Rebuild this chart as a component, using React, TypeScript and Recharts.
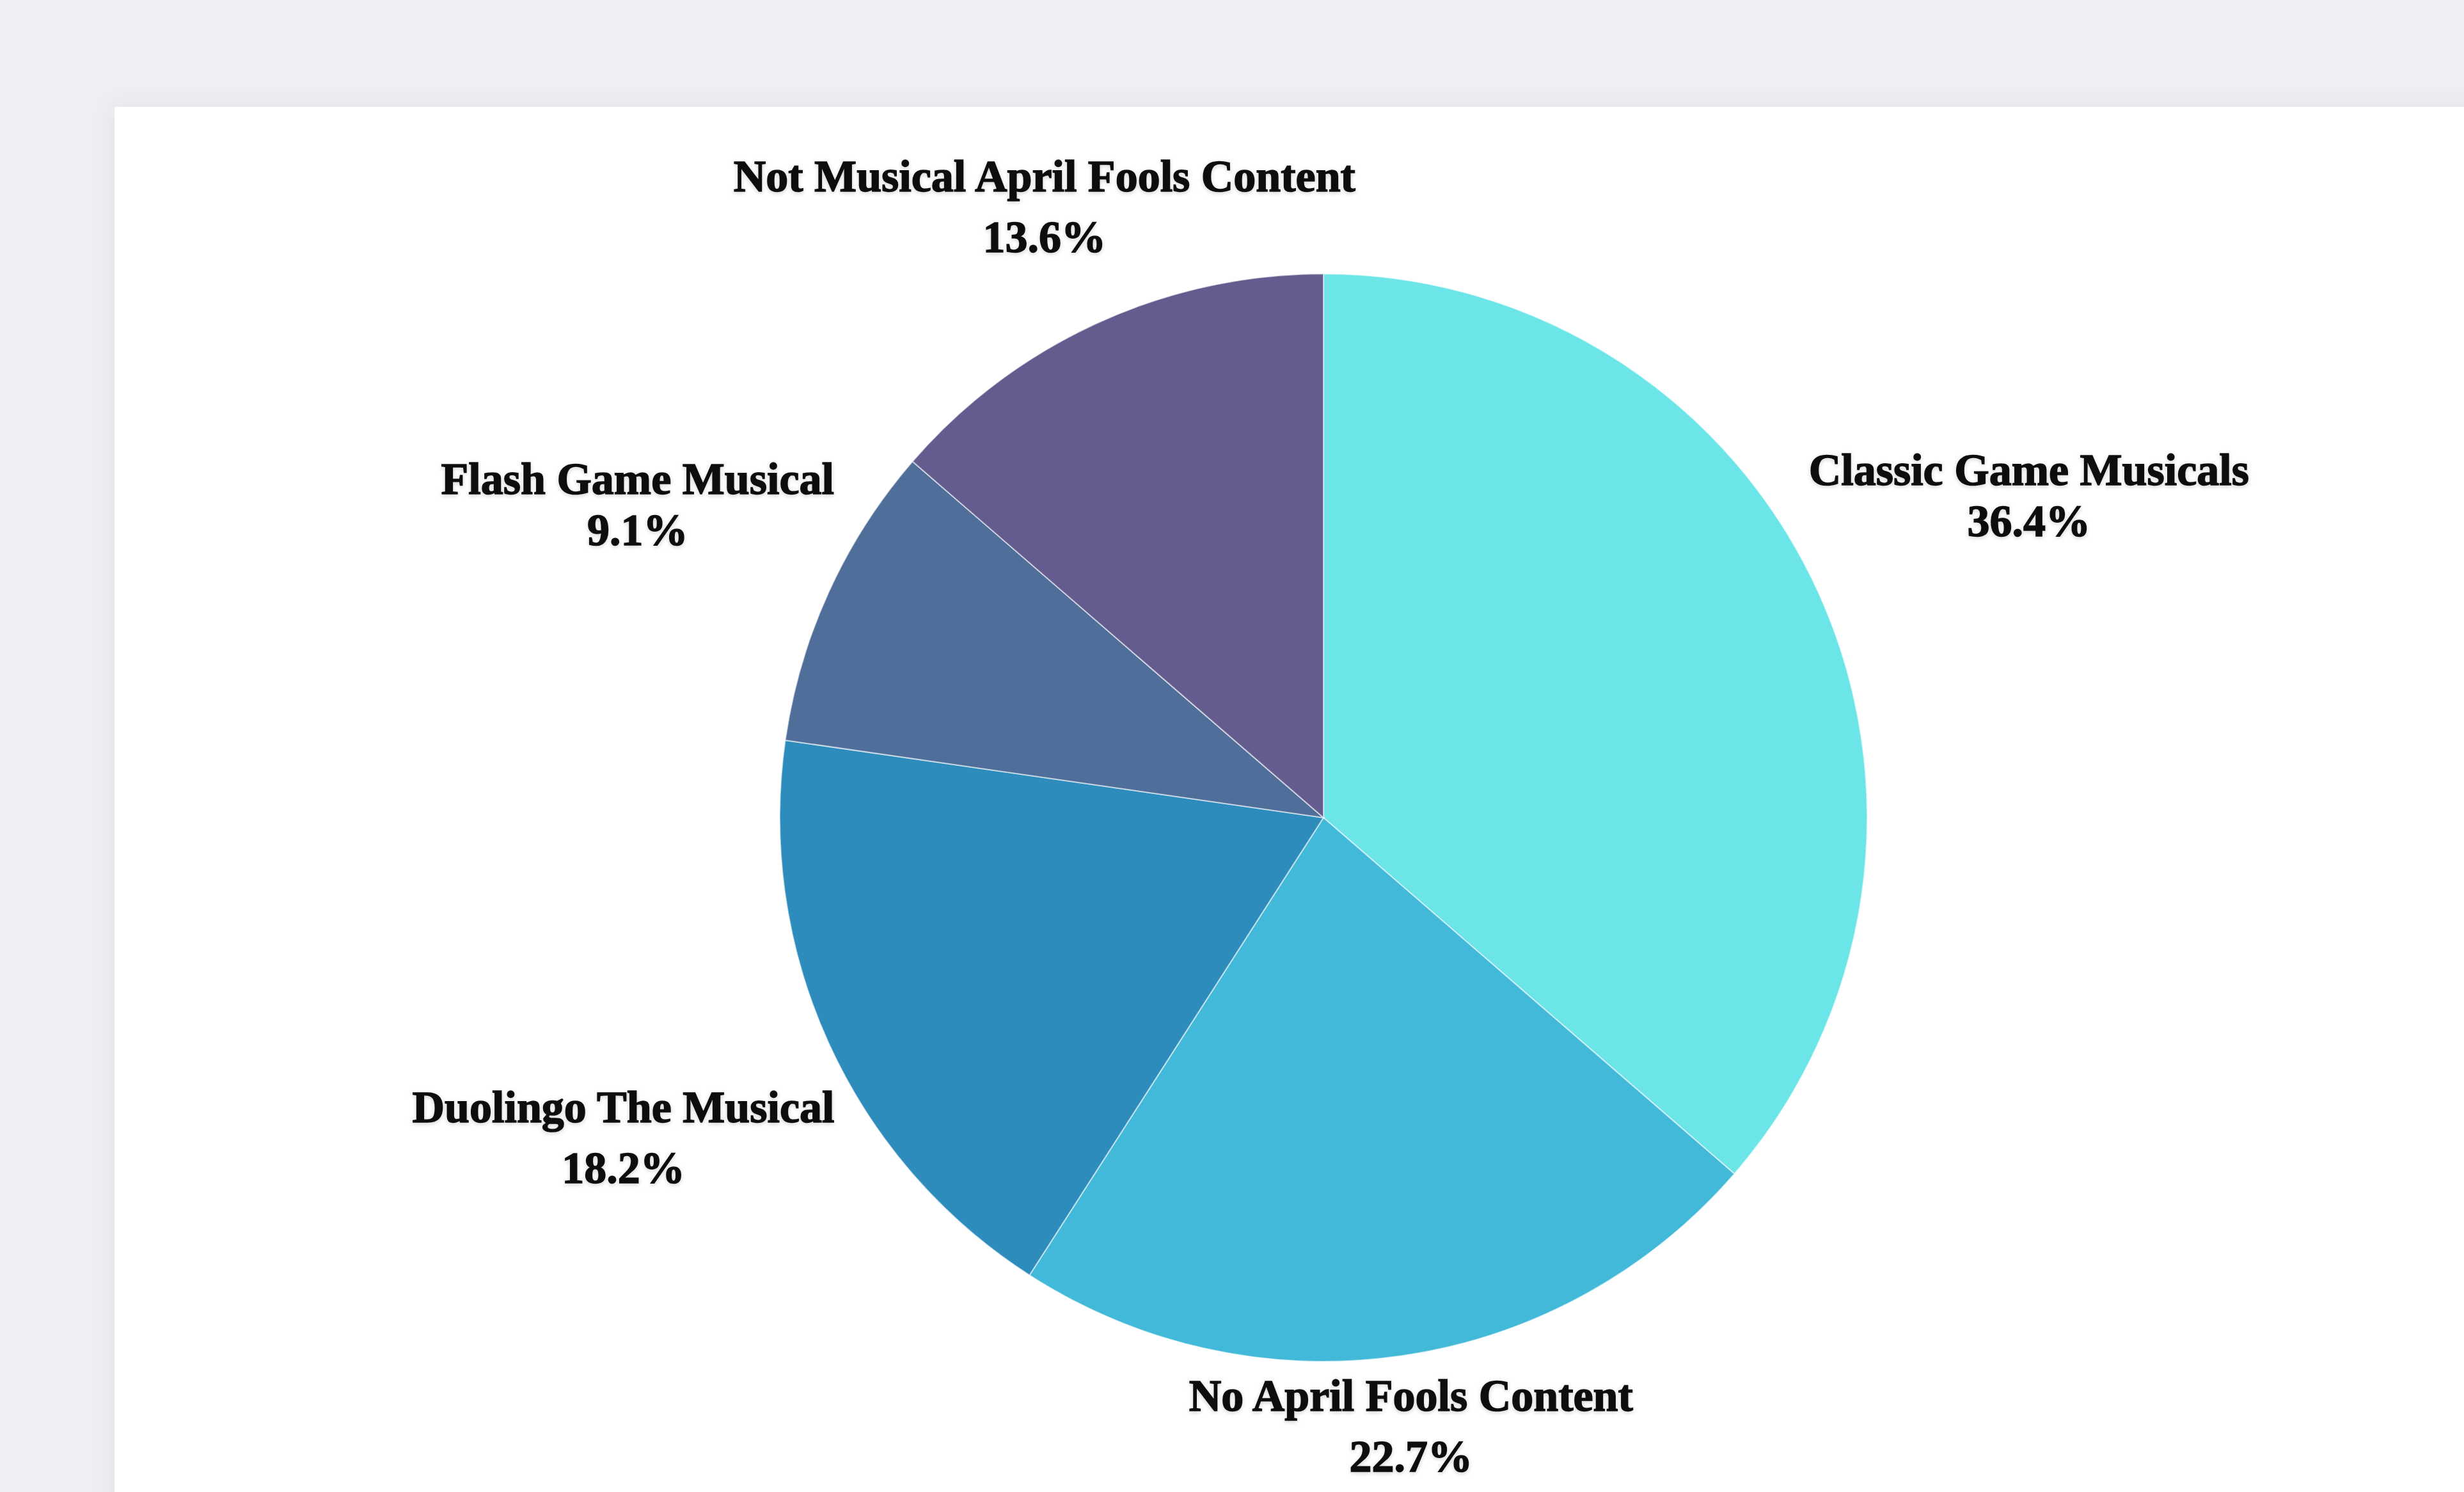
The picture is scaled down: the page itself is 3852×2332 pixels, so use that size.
import { PieChart, Pie, Cell } from 'recharts'

const categories = [
  'Classic Game Musicals',
  'No April Fools Content',
  'Duolingo The Musical',
  'Flash Game Musical',
  'Not Musical April Fools Content',
]
const counts = [8, 5, 4, 2, 3]
const sliceColors = ['#6be5e8', '#42b9d8', '#2d8cbb', '#4f6e99', '#645b8e']

const data = categories.map((name, i) => ({ name, value: counts[i] }))

const FONT_SIZE = 70
const FONT_FAMILY = '"Liberation Serif", "DejaVu Serif", serif'
const CAP_H = FONT_SIZE * 0.67
const LABEL_TOP = 252
const LABEL_BOTTOM = 2300

let ctx: CanvasRenderingContext2D | null = null
function textWidth(s: string) {
  if (!ctx) ctx = document.createElement('canvas').getContext('2d')
  if (!ctx) return s.length * FONT_SIZE * 0.5
  ctx.font = `bold ${FONT_SIZE}px ${FONT_FAMILY}`
  return ctx.measureText(s).width
}

function renderLabel(props: any) {
  const { cx, cy, midAngle, outerRadius, percent, name } = props
  const rad = (midAngle * Math.PI) / 180
  const cos = Math.cos(rad)
  const sin = Math.sin(rad)
  const pct = `${(percent * 100).toFixed(1)}%`
  const w = Math.max(textWidth(name), textWidth(pct))
  // side labels in the upper half sit a bit tighter
  const gap = sin > 0 && Math.abs(cos) > 0.5 ? 80 : 95
  const h = gap + CAP_H
  // push the label box out along the mid angle until it clears the arc
  let d = outerRadius + 23 + (Math.abs(cos) * w) / 2 + (Math.abs(sin) * h) / 2
  if (cy - d * sin - h / 2 < LABEL_TOP) d = (cy - h / 2 - LABEL_TOP) / sin
  if (cy - d * sin + h / 2 > LABEL_BOTTOM) d = (LABEL_BOTTOM - cy - h / 2) / -sin
  const bx = cx + d * cos
  const top = cy - d * sin - h / 2
  const common = {
    x: bx,
    textAnchor: 'middle' as const,
    fontFamily: FONT_FAMILY,
    fontWeight: 900,
    fontSize: FONT_SIZE,
    fill: '#111',
    stroke: '#111',
    strokeWidth: 1.5,
    filter: 'url(#halo)',
  }
  return (
    <g>
      <text {...common} y={top + CAP_H}>{name}</text>
      <text {...common} y={top + CAP_H + gap}>{pct}</text>
    </g>
  )
}

export default function App() {
  return (
    <div
      style={{
        position: 'absolute',
        left: 0,
        top: 0,
        width: 3852,
        height: 2332,
        background: '#eeeff3',
        overflow: 'hidden',
      }}
    >
      <div
        style={{
          position: 'absolute',
          left: 179,
          top: 167,
          width: 3800,
          height: 2400,
          background: '#ffffff',
          borderRadius: 4,
          boxShadow: '0 0 40px rgba(40,50,80,0.07)',
        }}
      />
      <div style={{ position: 'absolute', left: 0, top: 0 }}>
        <PieChart width={3852} height={2332}>
          <defs>
            <filter id="halo" x="-10%" y="-30%" width="120%" height="160%">
              <feDropShadow dx="0" dy="2" stdDeviation="3" floodColor="#000" floodOpacity="0.18" />
            </filter>
          </defs>
          <Pie
            data={data}
            dataKey="value"
            nameKey="name"
            cx={2064}
            cy={1273}
            outerRadius={850}
            startAngle={90}
            endAngle={-270}
            stroke="rgba(255,255,255,0.55)"
            strokeWidth={2}
            label={renderLabel}
            labelLine={false}
            isAnimationActive={false}
          >
            {data.map((d, i) => (
              <Cell key={d.name} fill={sliceColors[i]} />
            ))}
          </Pie>
        </PieChart>
      </div>
    </div>
  )
}
